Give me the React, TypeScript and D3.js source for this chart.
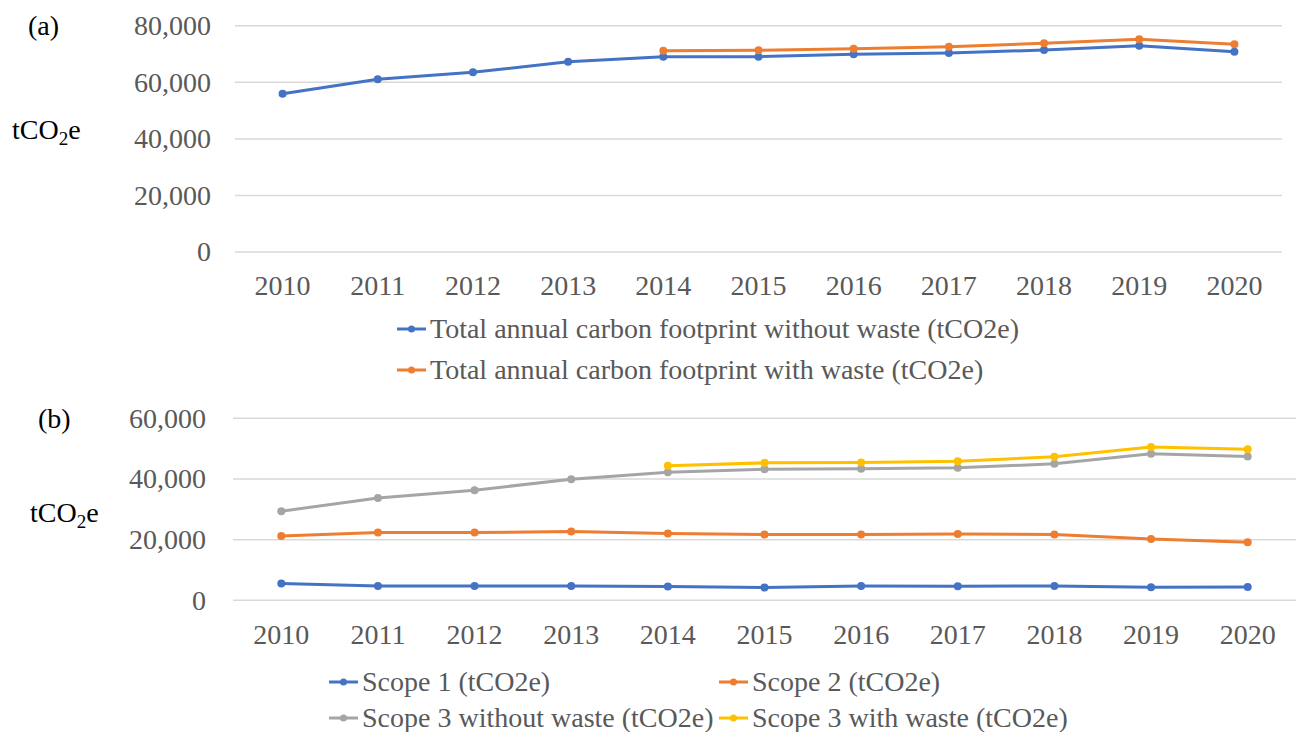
import React from 'react';
import * as d3 from 'd3';

const years = ['2010', '2011', '2012', '2013', '2014', '2015', '2016', '2017', '2018', '2019', '2020'];

const totalWithoutWaste = [55970, 61060, 63530, 67280, 69050, 69050, 69890, 70350, 71410, 72930, 70810];
const totalWithWaste = [null, null, null, null, 71170, 71310, 71870, 72580, 73780, 75190, 73430];

const scope1 = [5510, 4720, 4720, 4720, 4520, 4190, 4720, 4620, 4720, 4290, 4390];
const scope2 = [21220, 22340, 22340, 22670, 22010, 21680, 21680, 21880, 21680, 20230, 19140];
const scope3WithoutWaste = [29370, 33760, 36300, 39930, 42240, 43230, 43330, 43660, 44980, 48280, 47420];
const scope3WithWaste = [null, null, null, null, 44320, 45310, 45440, 45870, 47290, 50500, 49830];

const topTicks = [0, 20000, 40000, 60000, 80000];
const bottomTicks = [0, 20000, 40000, 60000];

const topSeriesNames = [
  'Total annual carbon footprint without waste (tCO2e)',
  'Total annual carbon footprint with waste (tCO2e)',
];
const bottomSeriesNames = [
  'Scope 1 (tCO2e)',
  'Scope 2 (tCO2e)',
  'Scope 3 without waste (tCO2e)',
  'Scope 3 with waste (tCO2e)',
];

const BLUE = '#4472C4';
const ORANGE = '#ED7D31';
const GRAY = '#A5A5A5';
const YELLOW = '#FFC000';
const TEXT = '#595959';
const GRID = '#D9D9D9';
const FONT = '"Liberation Serif", "Times New Roman", serif';
const FS = 28;

type Series = { name: string; values: (number | null)[]; color: string };

function Panel(props: {
  x0: number; x1: number; yBase: number; yTopPx: number; maxVal: number; ticks: number[];
  series: Series[]; tickRight: number; labelBaselineY: number;
}) {
  const { x0, x1, yBase, yTopPx, maxVal, ticks, series, tickRight, labelBaselineY } = props;
  const x = d3.scaleBand<string>().domain(years).range([x0, x1]).padding(0);
  const y = d3.scaleLinear().domain([0, maxVal]).range([yBase, yTopPx]);
  const cx = (yr: string) => (x(yr) as number) + x.bandwidth() / 2;
  const fmt = d3.format(',');
  const line = d3
    .line<{ yr: string; v: number | null }>()
    .defined((d) => d.v !== null)
    .x((d) => cx(d.yr))
    .y((d) => y(d.v as number));
  return (
    <g>
      {ticks.map((t) => (
        <g key={t}>
          <line x1={x0} x2={x1} y1={y(t)} y2={y(t)} stroke={GRID} strokeWidth={1.5} />
          <text x={tickRight} y={y(t)} dy="0.33em" textAnchor="end" fill={TEXT} fontSize={FS} fontFamily={FONT}>
            {fmt(t)}
          </text>
        </g>
      ))}
      {years.map((yr) => (
        <text key={yr} x={cx(yr)} y={labelBaselineY} textAnchor="middle" fill={TEXT} fontSize={FS} fontFamily={FONT}>
          {yr}
        </text>
      ))}
      {series.map((s) => {
        const pts = years.map((yr, i) => ({ yr, v: s.values[i] }));
        return (
          <g key={s.name}>
            <path d={line(pts) || ''} fill="none" stroke={s.color} strokeWidth={3} strokeLinejoin="round" />
            {pts
              .filter((p) => p.v !== null)
              .map((p) => (
                <circle key={p.yr} cx={cx(p.yr)} cy={y(p.v as number)} r={4} fill={s.color} />
              ))}
          </g>
        );
      })}
    </g>
  );
}

function LegendItem(props: { x: number; y: number; color: string; label: string }) {
  const { x, y, color, label } = props;
  return (
    <g>
      <line x1={x} x2={x + 29} y1={y} y2={y} stroke={color} strokeWidth={3} />
      <circle cx={x + 14.5} cy={y} r={3.5} fill={color} />
      <text x={x + 33} y={y} dy="0.33em" fill={TEXT} fontSize={FS} fontFamily={FONT}>
        {label}
      </text>
    </g>
  );
}

function Unit(props: { x: number; y: number }) {
  return (
    <text x={props.x} y={props.y} fill="#000" fontSize={FS} fontFamily={FONT}>
      tCO
      <tspan fontSize={19} dy={6}>2</tspan>
      <tspan dy={-6}>e</tspan>
    </text>
  );
}

export default function App() {
  const topSeries: Series[] = [
    { name: topSeriesNames[0], values: totalWithoutWaste, color: BLUE },
    { name: topSeriesNames[1], values: totalWithWaste, color: ORANGE },
  ];
  const bottomSeries: Series[] = [
    { name: bottomSeriesNames[0], values: scope1, color: BLUE },
    { name: bottomSeriesNames[1], values: scope2, color: ORANGE },
    { name: bottomSeriesNames[2], values: scope3WithoutWaste, color: GRAY },
    { name: bottomSeriesNames[3], values: scope3WithWaste, color: YELLOW },
  ];
  return (
    <svg
      width={1296}
      height={732}
      style={{ position: 'absolute', left: 0, top: 0, background: '#fff' }}
    >
      <rect width={1296} height={732} fill="#fff" />
      {/* Panel (a) */}
      <text x={28} y={35} fill="#000" fontSize={FS} fontFamily={FONT}>(a)</text>
      <Unit x={12} y={139} />
      <Panel
        x0={235}
        x1={1282}
        yBase={252.1}
        yTopPx={25.7}
        maxVal={80000}
        ticks={topTicks}
        series={topSeries}
        tickRight={211}
        labelBaselineY={295}
      />
      <LegendItem x={397} y={329} color={BLUE} label={topSeriesNames[0]} />
      <LegendItem x={397} y={370} color={ORANGE} label={topSeriesNames[1]} />

      {/* Panel (b) */}
      <text x={38} y={428} fill="#000" fontSize={FS} fontFamily={FONT}>(b)</text>
      <Unit x={30} y={522} />
      <Panel
        x0={233}
        x1={1296}
        yBase={600.3}
        yTopPx={418.3}
        maxVal={60000}
        ticks={bottomTicks}
        series={bottomSeries}
        tickRight={206}
        labelBaselineY={644}
      />
      <LegendItem x={329} y={682} color={BLUE} label={bottomSeriesNames[0]} />
      <LegendItem x={719} y={682} color={ORANGE} label={bottomSeriesNames[1]} />
      <LegendItem x={329} y={718} color={GRAY} label={bottomSeriesNames[2]} />
      <LegendItem x={719} y={718} color={YELLOW} label={bottomSeriesNames[3]} />
    </svg>
  );
}
